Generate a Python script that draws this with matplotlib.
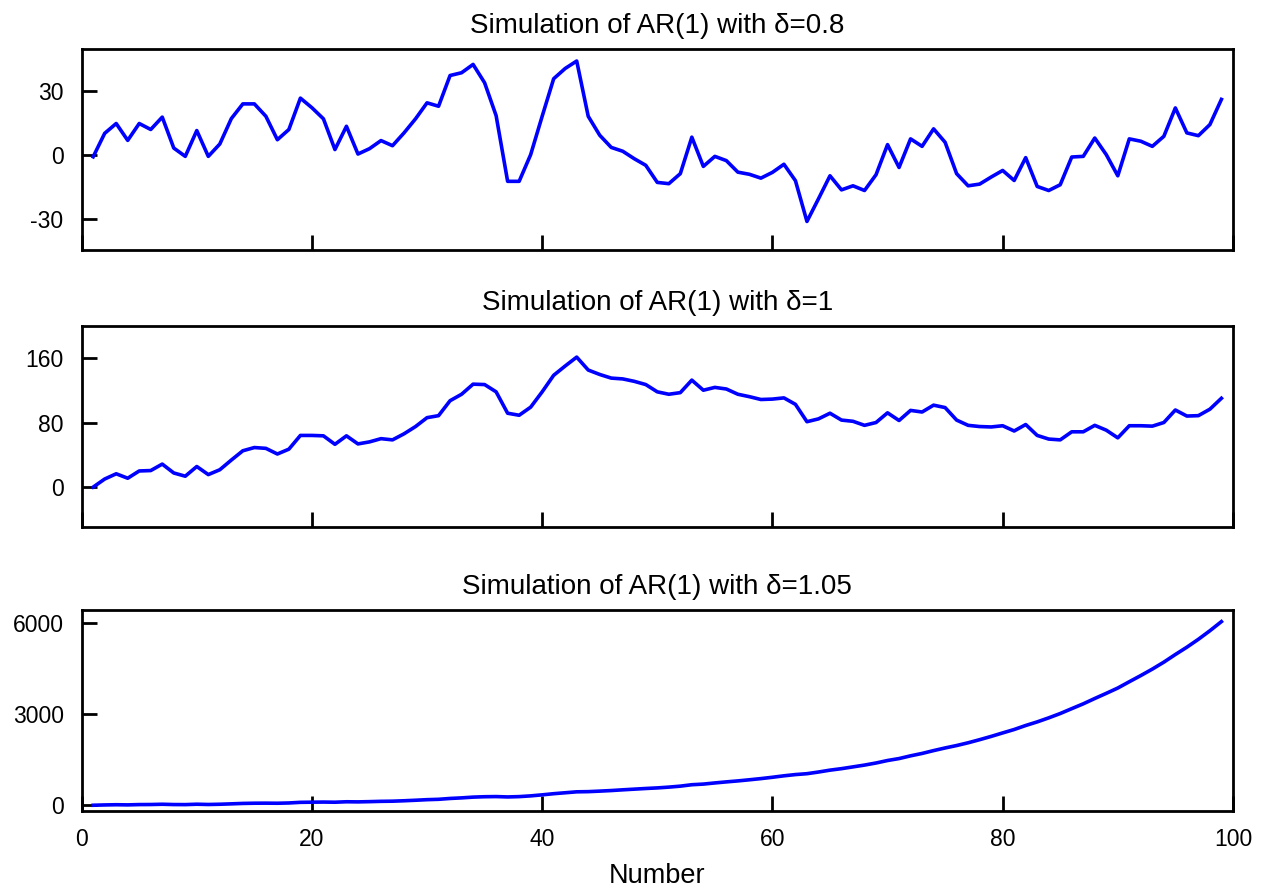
import matplotlib
matplotlib.use("Agg")
import matplotlib.pyplot as plt
import numpy as np

plt.rcParams['font.family'] = ['Liberation Sans', 'DejaVu Sans']

# time index
number = list(range(1, 100))

# AR(1), delta = 0.8
ar_08 = [
    -1, 10, 14.6, 6.7, 14.6, 11.8, 17.6, 3.1, -0.8, 11.3,
    -0.8, 5, 16.9, 23.8, 23.8, 18, 7, 11.8, 26.5, 22,
    16.8, 2.4, 13.3, 0.3, 2.8, 6.6, 4.2, 10.2, 16.8, 24.3,
    22.7, 37.1, 38.4, 42.3, 33.7, 18.3, -12.5, -12.5, 0, 18,
    35.6, 40.4, 43.9, 18, 9.1, 3.4, 1.6, -1.9, -5, -13,
    -13.6, -8.9, 8.2, -5.5, -0.8, -2.8, -8.2, -9.2, -11, -8.3,
    -4.5, -12.2, -31.3, -20.7, -9.9, -16.5, -14.6, -16.8, -9.4, 4.7,
    -6, 7.4, 3.9, 12.1, 5.8, -8.9, -14.6, -13.8, -10.5, -7.4,
    -12.1, -1.4, -14.9, -16.8, -14.1, -1.1, -0.8, 7.8, 0, -9.9,
    7.4, 6.3, 3.9, 8.6, 21.9, 10.2, 8.9, 14.1, 25.9,
]

# AR(1), delta = 1 (random walk)
ar_1 = [
    0, 10, 16.5, 11, 20, 20.5, 28.5, 17.5, 13.5, 25.5,
    15.5, 21.5, 33.5, 45, 49, 48, 41, 47, 64, 64,
    63.5, 53, 63.5, 53.5, 56, 60, 58.5, 66, 75, 86,
    88.5, 107, 115, 127.5, 127, 118, 91.5, 89, 99, 118,
    138.5, 150, 161, 145, 139.5, 135, 134, 131, 127, 118,
    115, 117, 132.5, 120, 123.5, 121.5, 115, 112, 108.5, 109,
    110.5, 102.5, 81, 84.5, 91.5, 83, 81.5, 76.5, 80, 92,
    82.5, 95, 93, 101.5, 98.5, 83, 76.5, 75, 74.5, 76,
    69.5, 77.5, 64, 59.5, 58.5, 68.5, 68.5, 76.5, 70.5, 61,
    76, 76, 75.5, 80, 95.5, 88, 88.5, 96.5, 110,
]

# AR(1), delta = 1.05 (explosive)
ar_105 = [
    0, 10, 17, 12, 22, 24, 33, 23, 21, 34,
    25, 33, 46, 60, 67, 69, 66, 75, 96, 101,
    105, 100, 115, 111, 119, 129, 134, 148, 165, 184,
    196, 224, 243, 268, 281, 286, 274, 285, 309, 343,
    381, 412, 443, 449, 466, 485, 509, 531, 553, 572,
    598, 630, 677, 698, 736, 771, 803, 840, 879, 923,
    971, 1012, 1041, 1096, 1158, 1207, 1266, 1325, 1394, 1476,
    1540, 1630, 1709, 1803, 1890, 1970, 2061, 2163, 2271, 2386,
    2499, 2631, 2750, 2883, 3026, 3187, 3346, 3522, 3692, 3867,
    4075, 4279, 4492, 4721, 4973, 5214, 5475, 5757, 6058,
]

panels = [
    (ar_08, 'Simulation of AR(1) with δ=0.8', (-44.7, 49.5), [-30, 0, 30], ['-30', '0', '30']),
    (ar_1, 'Simulation of AR(1) with δ=1', (-49.4, 199.5), [0, 80, 160], ['0', '80', '160']),
    (ar_105, 'Simulation of AR(1) with δ=1.05', (-190, 6440), [0, 3000, 6000], ['0', '3000', '6000']),
]

fig = plt.figure(figsize=(12.7, 8.92), dpi=100)
left, width, height = 0.0643, 0.9065, 0.2253
bottoms = [0.7197, 0.4092, 0.0908]

for (series, title, ylim, yticks, ylabels), bottom in zip(panels, bottoms):
    ax = fig.add_axes([left, bottom, width, height])
    ax.plot(number, series, color='#0000ff', lw=2.6)
    ax.set_xlim(0, 100)
    ax.set_ylim(*ylim)
    ax.set_yticks(yticks, ylabels)
    ax.set_xticks([0, 20, 40, 60, 80, 100])
    ax.set_title(title, fontsize=20, pad=11.5)
    for sp in ax.spines.values():
        sp.set_linewidth(2.0)
    ax.tick_params(direction='in', length=11, width=2.0, labelsize=16.5,
                   top=False, right=False)
    ax.tick_params(axis='y', pad=13)
    ax.tick_params(axis='x', pad=12)
    if bottom != bottoms[-1]:
        ax.tick_params(labelbottom=False)
    else:
        ax.set_xlabel('Number', fontsize=19.5, labelpad=9)

fig.savefig('out.png', dpi=100)
